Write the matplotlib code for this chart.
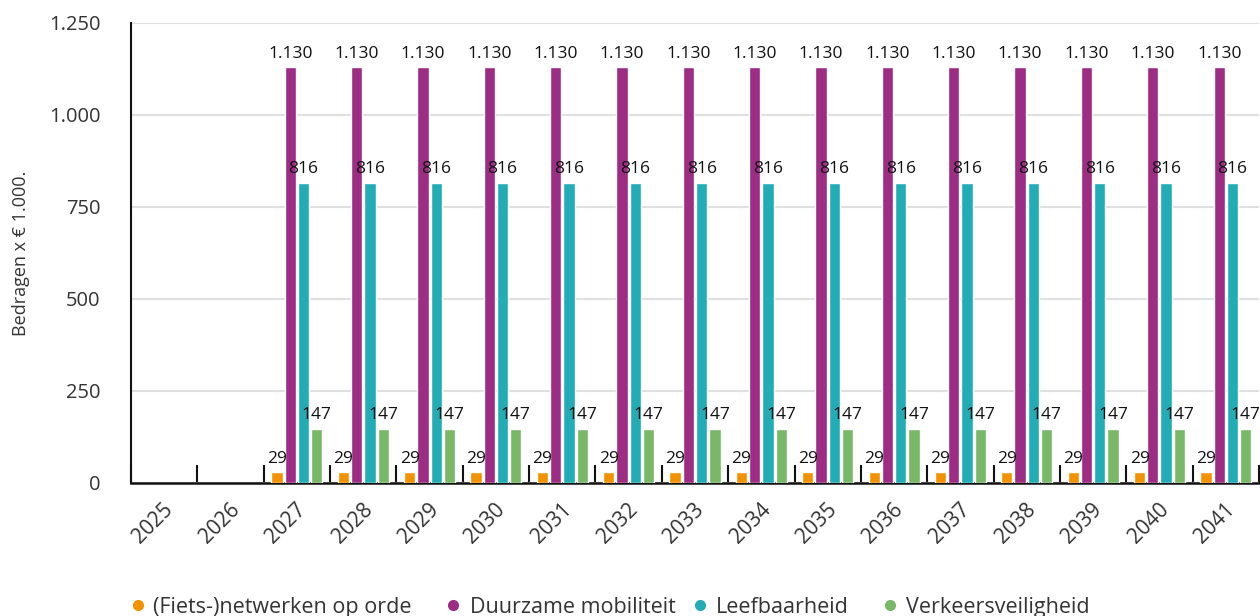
import matplotlib
matplotlib.use("Agg")
import matplotlib.pyplot as plt
import matplotlib.transforms as mtransforms
from matplotlib.lines import Line2D
import numpy as np

plt.rcParams['font.family'] = ['Open Sans', 'DejaVu Sans']

years = ['2025', '2026', '2027', '2028', '2029', '2030', '2031', '2032', '2033',
         '2034', '2035', '2036', '2037', '2038', '2039', '2040', '2041']
series_names = ['(Fiets-)netwerken op orde', 'Duurzame mobiliteit', 'Leefbaarheid', 'Verkeersveiligheid']
fietsnetwerken = [0, 0] + [29] * 15
duurzame = [0, 0] + [1130] * 15
leefbaarheid = [0, 0] + [816] * 15
verkeersveiligheid = [0, 0] + [147] * 15
colors = ['#F39200', '#9C2C84', '#22ACB5', '#78B866']
series = [fietsnetwerken, duurzame, leefbaarheid, verkeersveiligheid]

def fmt(v):
    return f"{v:,}".replace(',', '.')

W, H = 1260, 616
fig = plt.figure(figsize=(W / 100, H / 100), dpi=100)
ax = fig.add_axes([131/W, 1 - 483/H, (1259 - 131)/W, (483 - 23)/H])

x = np.arange(len(years))
pitch = 0.2
width = 0.17
for i, (vals, c) in enumerate(zip(series, colors)):
    pos = x + (i - 1.5) * pitch
    for xp, v in zip(pos, vals):
        if v <= 0:
            continue
        ax.bar(xp, v, width=width, color=c, edgecolor='white', linewidth=1.0, zorder=3)
        ax.annotate(fmt(v), (xp, v), xytext=(0, 4), textcoords='offset points',
                    ha='center', va='bottom', fontsize=12.5, color='#111111', zorder=4)

ax.set_xlim(-0.5, len(years) - 0.5)
ax.set_ylim(0, 1250)
ax.set_yticks([0, 250, 500, 750, 1000, 1250])
ax.set_yticklabels([fmt(v) for v in [0, 250, 500, 750, 1000, 1250]], fontsize=14.5, color='#333333')
ax.yaxis.grid(True, color='#e0e0e0', linewidth=1.5, zorder=0)
ax.tick_params(axis='y', length=0, pad=22)

# category boundary ticks
ax.set_xticks(np.arange(len(years) + 1) - 0.5, minor=False)
ax.set_xticklabels([])
ax.tick_params(axis='x', which='major', direction='in', length=13, width=1.5, color='#111111')
ax.set_xticks(x, minor=True)
ax.set_xticklabels(years, minor=True, rotation=45, ha='right', va='center',
                   rotation_mode='anchor', fontsize=15, color='#333333')
ax.tick_params(axis='x', which='minor', length=0, pad=17)
shift = mtransforms.ScaledTranslation(6 / 100, 0, fig.dpi_scale_trans)
for lbl in ax.get_xticklabels(minor=True):
    lbl.set_transform(lbl.get_transform() + shift)

for s in ['top', 'right']:
    ax.spines[s].set_visible(False)
ax.spines['left'].set_linewidth(1.5)
ax.spines['bottom'].set_linewidth(1.8)
ax.spines['left'].set_color('#111111')
ax.spines['bottom'].set_color('#111111')
ax.set_axisbelow(True)

ax.set_ylabel('Bedragen x € 1.000.', fontsize=13, color='#333333')
ax.yaxis.set_label_coords(-0.0895, 0.5)

# legend, placed item by item
dot_x = [138, 453, 700, 890]
text_x = [153, 470, 716, 906]
ly = 1 - 605 / H
for name, c, dx, tx in zip(series_names, colors, dot_x, text_x):
    fig.add_artist(Line2D([dx / W], [ly], marker='o', color='none', markerfacecolor=c,
                          markeredgecolor=c, markersize=7, transform=fig.transFigure))
    fig.text(tx / W, ly, name, ha='left', va='center_baseline', fontsize=15.5, color='#333333')

fig.savefig('out.png', dpi=100)
